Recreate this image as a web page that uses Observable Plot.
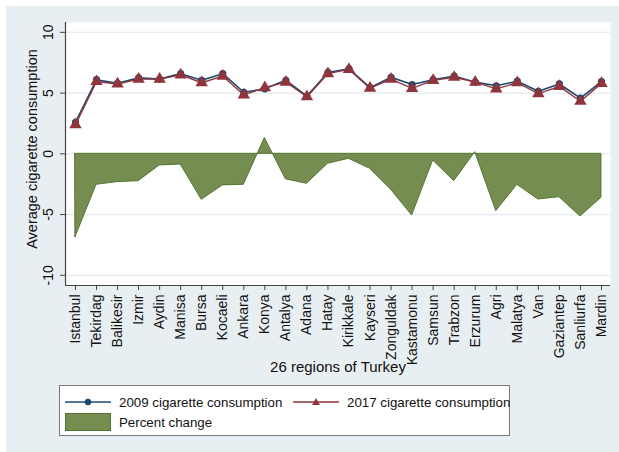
<!DOCTYPE html>
<html>
<head>
<meta charset="utf-8">
<script src="https://cdn.jsdelivr.net/npm/d3@7"></script>
<script src="https://cdn.jsdelivr.net/npm/@observablehq/plot@0.6"></script>
<style>
  html, body { margin: 0; padding: 0; background: #ffffff; }
  #outer { position: relative; width: 619px; height: 452px; background: #ffffff; overflow: hidden;
           font-family: "Liberation Sans", Arial, sans-serif; }
  #region { position: absolute; left: 6px; top: 6px; width: 620px; height: 450px; background: #e8eff2; }
  #chart { position: absolute; left: 0; top: 0; }
  #legend { position: absolute; left: 59px; top: 385px; width: 451px; height: 51px; background: #ffffff;
            border: 1px solid #7a7a7a; box-sizing: border-box; font-size: 13.3px; color: #111; }
  .item { position: absolute; display: flex; align-items: center; white-space: nowrap; }
  .item svg { display: block; }
</style>
</head>
<body>
<div id="outer">
  <div id="region"></div>
  <div id="chart"></div>
  <div id="legend"></div>
</div>
<script>
const regions = ["Istanbul","Tekirdag","Balikesir","Izmir","Aydin","Manisa","Bursa","Kocaeli","Ankara","Konya","Antalya","Adana","Hatay","Kirikkale","Kayseri","Zonguldak","Kastamonu","Samsun","Trabzon","Erzurum","Agri","Malatya","Van","Gaziantep","Sanliurfa","Mardin"];
const cons2009 = [2.6,6.1,5.8,6.25,6.15,6.6,6.05,6.6,5.07,5.35,6.05,4.75,6.7,7.0,5.45,6.3,5.7,6.1,6.4,5.9,5.6,5.98,5.15,5.75,4.58,5.95];
const cons2017 = [2.4,5.95,5.75,6.15,6.15,6.5,5.85,6.4,4.85,5.45,5.9,4.7,6.6,6.95,5.4,6.15,5.38,6.05,6.3,5.9,5.35,5.85,4.95,5.55,4.33,5.8];
const pctChange = [-6.86,-2.55,-2.33,-2.25,-0.96,-0.88,-3.79,-2.6,-2.55,1.3,-2.1,-2.47,-0.82,-0.41,-1.23,-2.95,-5.08,-0.55,-2.25,0.13,-4.72,-2.55,-3.76,-3.57,-5.16,-3.62];
const yTicks = [-10,-5,0,5,10];
const seriesNames = ["2009 cigarette consumption","2017 cigarette consumption","Percent change"];

const BLUE = "#1a476f", RED = "#90353b", GREEN_FILL = "#758d51", GREEN_STROKE = "#55752f";
const GRID = "#e4ecef", AXIS = "#444444";

const data = regions.map((r, i) => ({i, region: r, c09: cons2009[i], c17: cons2017[i], pct: pctChange[i]}));
const xDom = [-0.475, regions.length - 1 + 0.43];
const yDom = [-10.84, 10.81];

const chart = Plot.plot({
  width: 619,
  height: 380,
  marginLeft: 65,
  marginRight: 9,
  marginTop: 22,
  marginBottom: 95,
  style: {background: "transparent", fontFamily: "Liberation Sans, Arial, sans-serif", color: "#111"},
  x: {type: "linear", domain: xDom, axis: null},
  y: {domain: yDom, axis: null},
  marks: [
    Plot.frame({fill: "#ffffff", stroke: "none"}),
    Plot.ruleY(yTicks, {stroke: GRID, strokeWidth: 1.2}),
    Plot.areaY(data, {x: "i", y1: 0, y2: "pct", fill: GREEN_FILL, stroke: GREEN_STROKE, strokeWidth: 1}),
    Plot.line(data, {x: "i", y: "c09", stroke: BLUE, strokeWidth: 1.6}),
    Plot.dot(data, {x: "i", y: "c09", r: 3.6, fill: BLUE, stroke: "none", symbol: "circle"}),
    Plot.line(data, {x: "i", y: "c17", stroke: RED, strokeWidth: 1.4}),
    Plot.dot(data, {x: "i", y: "c17", r: 4.6, fill: RED, stroke: "none", symbol: "triangle"}),
    // axis lines
    Plot.ruleX([xDom[0]], {stroke: AXIS, strokeWidth: 1.2}),
    Plot.ruleY([yDom[0]], {stroke: AXIS, strokeWidth: 1.2}),
    // y axis ticks and labels
    Plot.axisY({ticks: yTicks, tickSize: 5, tickFormat: () => "", stroke: AXIS, label: null}),
    Plot.text(yTicks, {y: d => d, text: d => String(d), frameAnchor: "left", textAnchor: "middle", lineAnchor: "middle",
                       dx: -17, rotate: -90, fontSize: 14, fill: "#111"}),
    // x axis ticks and labels
    Plot.axisX({ticks: d3.range(regions.length), tickFormat: i => regions[i], tickSize: 5, tickPadding: 4,
                tickRotate: -90, fontSize: 14, stroke: AXIS, label: null}),
    // axis titles
    Plot.text(["26 regions of Turkey"], {frameAnchor: "bottom", dy: 82, fontSize: 15, fill: "#111", text: d => d,
                                         textAnchor: "middle", lineAnchor: "middle"}),
    Plot.text(["Average cigarette consumption"], {frameAnchor: "left", textAnchor: "middle", lineAnchor: "middle",
                                                  dx: -33, dy: -5, rotate: -90, fontSize: 14.5, fill: "#111", text: d => d})
  ]
});
document.getElementById("chart").appendChild(chart);

// Legend
const legend = document.getElementById("legend");
function addItem(left, top, swatch, label) {
  const div = document.createElement("div");
  div.className = "item";
  div.style.left = left + "px";
  div.style.top = top + "px";
  div.innerHTML = swatch + `<span style="margin-left:8px">${label}</span>`;
  legend.appendChild(div);
}
const lineSw = (color, marker) => `<svg width="46" height="16" viewBox="0 0 46 16"><line x1="0" y1="8" x2="46" y2="8" stroke="${color}" stroke-width="1.5"/>${marker}</svg>`;
addItem(5, 8, lineSw(BLUE, `<circle cx="23" cy="8" r="3.2" fill="${BLUE}"/>`), seriesNames[0]);
addItem(233, 8, lineSw(RED, `<path d="M23,4 L27,11 L19,11 Z" fill="${RED}"/>`), seriesNames[1]);
addItem(5, 27, `<svg width="46" height="18"><rect x="0.5" y="0.5" width="45" height="17" fill="${GREEN_FILL}" stroke="${GREEN_STROKE}" stroke-width="1"/></svg>`, seriesNames[2]);
</script>
</body>
</html>
